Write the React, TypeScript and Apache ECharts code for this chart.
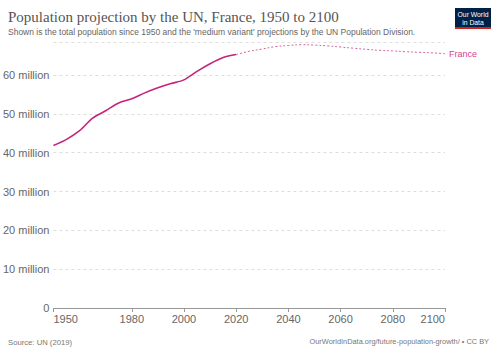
import React, { useEffect, useRef } from "react";
import * as echarts from "echarts";

const histYears = [1950, 1955, 1960, 1965, 1970, 1975, 1980, 1985, 1990, 1995, 2000, 2005, 2010, 2015, 2020];
const histValues = [41.83, 43.43, 45.67, 48.9, 50.8, 52.8, 53.87, 55.4, 56.7, 57.8, 58.75, 60.95, 62.9, 64.5, 65.27];
const projYears = [2020, 2025, 2030, 2035, 2040, 2045, 2050, 2055, 2060, 2065, 2070, 2075, 2080, 2085, 2090, 2095, 2100];
const projValues = [65.27, 66.1, 66.7, 67.3, 67.6, 67.8, 67.7, 67.5, 67.2, 66.9, 66.6, 66.35, 66.2, 66.0, 65.85, 65.7, 65.5];
const xTickLabels = [1950, 1980, 2000, 2020, 2040, 2060, 2080, 2100];
const yTickValues = [0, 10, 20, 30, 40, 50, 60];

const LINE = "#c4257a";
const LABEL = "#d6408f";

export default function App() {
  const ref = useRef<HTMLDivElement>(null);
  useEffect(() => {
    const chart = echarts.init(ref.current!, null, { renderer: "svg" });
    chart.setOption({
      animation: false,
      textStyle: { fontFamily: "Liberation Sans, Arial, sans-serif" },
      grid: { left: 52, right: 55, top: 42, bottom: 45 },
      xAxis: {
        type: "value",
        min: 1950,
        max: 2100,
        axisLine: { show: true, lineStyle: { color: "#999", width: 1 } },
        axisTick: { show: true, length: 4, lineStyle: { color: "#999" }, customValues: xTickLabels },
        axisLabel: {
          color: "#666",
          fontSize: 11,
          margin: 5,
          alignMinLabel: "left",
          alignMaxLabel: "right",
          customValues: xTickLabels,
          formatter: (v: number) => String(v),
        },
        splitLine: { show: false },
      },
      yAxis: {
        type: "value",
        min: 0,
        max: 68.5,
        interval: 10,
        axisLine: { show: false },
        axisTick: { show: false },
        axisLabel: {
          color: "#666",
          fontSize: 11,
          margin: 4,
          customValues: yTickValues,
          formatter: (v: number) => (v === 0 ? "0" : `${v} million`),
        },
        splitLine: {
          show: true,
          showMinLine: false,
          lineStyle: { color: "#dddddd", type: [3, 3], width: 1 },
        },
      },
      series: [
        {
          type: "line",
          data: histYears.map((y, i) => [y, histValues[i]]),
          smooth: 0.3,
          showSymbol: false,
          lineStyle: { color: LINE, width: 1.6 },
          itemStyle: { color: LINE },
          z: 3,
        },
        {
          type: "line",
          data: projYears.map((y, i) => [y, projValues[i]]),
          smooth: 0.4,
          showSymbol: false,
          lineStyle: { color: LINE, width: 1, type: [2, 2], opacity: 0.7 },
          itemStyle: { color: LINE },
          endLabel: {
            show: true,
            formatter: "France",
            color: LABEL,
            fontSize: 9,
            distance: 4,
          },
          z: 2,
        },
      ],
      graphic: [
        {
          type: "text",
          left: 8,
          top: 9,
          style: {
            text: "Population projection by the UN, France, 1950 to 2100",
            fontFamily: "Liberation Serif, Times New Roman, serif",
            fontSize: 15,
            fill: "#555",
          },
        },
        {
          type: "text",
          left: 8,
          top: 27,
          style: {
            text: "Shown is the total population since 1950 and the 'medium variant' projections by the UN Population Division.",
            fontFamily: "Liberation Sans, Arial, sans-serif",
            fontSize: 8.5,
            fill: "#666",
          },
        },
        {
          type: "group",
          left: 455,
          top: 8,
          children: [
            { type: "rect", shape: { x: 0, y: 0, width: 36, height: 20 }, style: { fill: "#002147" } },
            { type: "rect", shape: { x: 0, y: 19, width: 36, height: 2 }, style: { fill: "#ce261e" } },
            {
              type: "text",
              x: 18,
              y: 2,
              style: {
                text: "Our World\nin Data",
                fill: "#fff",
                fontSize: 6.8,
                lineHeight: 8,
                align: "center",
                fontFamily: "Liberation Sans, Arial, sans-serif",
              },
            },
          ],
        },
        {
          type: "text",
          left: 8,
          top: 338,
          style: {
            text: "Source: UN (2019)",
            fontSize: 7.7,
            fill: "#777",
            fontFamily: "Liberation Sans, Arial, sans-serif",
          },
        },
        {
          type: "text",
          right: 11,
          top: 338,
          style: {
            text: "OurWorldInData.org/future-population-growth/ • CC BY",
            fontSize: 7.4,
            fill: "#777",
            fontFamily: "Liberation Sans, Arial, sans-serif",
          },
        },
      ],
    });
    return () => chart.dispose();
  }, []);
  return <div ref={ref} style={{ width: 500, height: 353, position: "absolute", left: 0, top: 0 }} />;
}
